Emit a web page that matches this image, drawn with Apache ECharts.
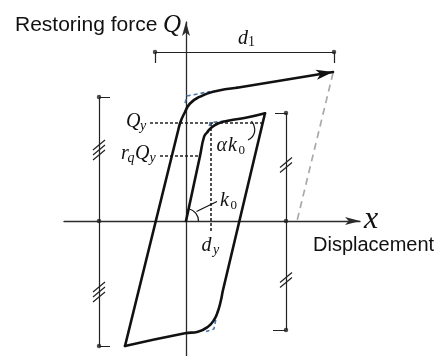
<!DOCTYPE html>
<html>
<head>
<meta charset="utf-8">
<script src="https://cdn.jsdelivr.net/npm/echarts@6/dist/echarts.min.js"></script>
<style>
  html, body { margin: 0; padding: 0; background: #fff; }
  #chart { width: 441px; height: 356px; }
</style>
</head>
<body>
<div id="chart"></div>
<script>
// Hysteresis model: displacement x (horizontal) against restoring force Q (vertical).
// Plot units are arbitrary; origin at (0, 0).

// Path: initial loading from the origin to the first peak
const initialLoading = [[0, 0], [14, 65], [18, 84], [21, 88.5], [25, 93], [32, 97.5], [42, 100.3], [62, 103.7], [79, 107.7]];
// Unloading down to the negative peak
const unloading = [[79, 107.7], [37, -69], [35, -79], [32, -90], [28, -99], [22, -105.7], [12, -110.7], [-1, -112.3], [-61, -125]];
// Reloading towards the next (larger) peak
const reloading = [[-61, -125], [-8, 90], [-5.5, 99], [-2, 107], [4, 117.5], [14, 124.3], [27, 129.3], [51, 133.3]];
const reloadingPeak = [147, 149];

// Bilinear idealisation at the corners (blue dashed)
const bilinearUpperOuter = [[-1, 118], [1, 125], [24, 129.5]];
const bilinearUpperInner = [[22, 88], [24, 98.3], [42, 100.5]];
const bilinearLowerInner = [[31, -92], [28, -108], [20, -110.5]];

// Characteristic levels
const Qy = 98;          // yield force
const rqQy = 65;        // reduced force level
const dy = 24.5;        // yield displacement
const QyLineSpan = [-36, 77];
const rqQyLineSpan = [-26, 14];
const dyLineSpan = [98, -11];

// Envelope guide from the reloading peak back to the axis
const envelopeGuide = [[147, 148], [111, 0]];

// Dimension brackets
const leftBracket = { x: -87, top: 124, bottom: -125 };
const rightBracket = { x: 100, top: 108, bottom: -109 };
const d1Line = { y: 169, from: -31, to: 148 };
const leftBreaks = [[-87, 71], [-87, -71]];
const rightBreaks = [[100, 56], [100, -59]];

const INK = '#111';
const AXIS = '#2b2b2b';
const BLUE = '#4a78ad';

const chart = echarts.init(document.getElementById('chart'), null, { renderer: 'canvas' });

function seg(a, b) { return { coords: [a, b] }; }

// Bracket segments
const bracketSegs = [
  seg([leftBracket.x, leftBracket.top], [leftBracket.x, leftBracket.bottom]),
  seg([leftBracket.x, leftBracket.top], [leftBracket.x + 11, leftBracket.top]),
  seg([leftBracket.x, leftBracket.bottom], [leftBracket.x + 11, leftBracket.bottom]),
  seg([rightBracket.x, rightBracket.top], [rightBracket.x, rightBracket.bottom]),
  seg([rightBracket.x - 11, rightBracket.top], [rightBracket.x, rightBracket.top]),
  seg([rightBracket.x - 13, rightBracket.bottom], [rightBracket.x, rightBracket.bottom]),
  seg([d1Line.from, d1Line.y], [d1Line.to, d1Line.y]),
  seg([d1Line.from, d1Line.y], [d1Line.from, d1Line.y - 11]),
  seg([d1Line.to, d1Line.y], [d1Line.to, d1Line.y - 11])
];
// Break marks: parallel slanted strokes across the bracket lines
function breakStrokes(centres, count) {
  const out = [];
  centres.forEach(function (c) {
    for (let i = 0; i < count; i++) {
      const off = (i - (count - 1) / 2) * 5;
      out.push(seg([c[0] - 6, c[1] + off - 5], [c[0] + 6, c[1] + off + 5]));
    }
  });
  return out;
}
const breakSegs = breakStrokes(leftBreaks, 3).concat(breakStrokes(rightBreaks, 2));

const bracketDots = [
  [leftBracket.x, leftBracket.top], [leftBracket.x, 0], [leftBracket.x, leftBracket.bottom],
  [rightBracket.x, rightBracket.top], [rightBracket.x, 0], [rightBracket.x, rightBracket.bottom],
  [d1Line.from, d1Line.y], [d1Line.to, d1Line.y]
];

const pathStyle = { color: INK, width: 2.6, cap: 'round', join: 'round' };
function pathSeries(data) {
  return {
    type: 'line', data: data, smooth: 0.5, showSymbol: false, symbol: 'none',
    lineStyle: pathStyle, clip: false, silent: true, z: 5
  };
}

const reloadSeries = pathSeries(reloading);
reloadSeries.markLine = {
  silent: true, animation: false,
  symbol: ['none', 'arrow'], symbolSize: [7.5, 17],
  label: { show: false },
  lineStyle: { color: INK, width: 2.6, type: 'solid', cap: 'round' },
  emphasis: { disabled: true },
  data: [[{ coord: reloading[reloading.length - 1] }, { coord: reloadingPeak }]]
};

const option = {
  animation: false,
  backgroundColor: '#fff',
  grid: { left: 64, top: 22, width: 296, height: 334 },
  xAxis: {
    type: 'value', min: -122, max: 174,
    axisLine: { onZero: true, symbol: ['none', 'arrow'], symbolSize: [6, 15], lineStyle: { color: AXIS, width: 1.3 } },
    axisTick: { show: false }, axisLabel: { show: false }, splitLine: { show: false }
  },
  yAxis: {
    type: 'value', min: -135, max: 199,
    axisLine: { onZero: true, symbol: ['none', 'arrow'], symbolSize: [6, 14], lineStyle: { color: AXIS, width: 1.3 } },
    axisTick: { show: false }, axisLabel: { show: false }, splitLine: { show: false }
  },
  series: [
    pathSeries(initialLoading),
    pathSeries(unloading),
    reloadSeries,
    {
      type: 'lines', coordinateSystem: 'cartesian2d', silent: true, z: 3,
      lineStyle: { color: '#222', width: 1.6, type: [3, 2], opacity: 1 },
      data: [
        seg([QyLineSpan[0], Qy], [QyLineSpan[1], Qy]),
        seg([rqQyLineSpan[0], rqQy], [rqQyLineSpan[1], rqQy]),
        seg([dy, dyLineSpan[0]], [dy, dyLineSpan[1]])
      ]
    },
    {
      type: 'lines', coordinateSystem: 'cartesian2d', polyline: true, silent: true, z: 4,
      lineStyle: { color: BLUE, width: 1.6, type: [4, 3], opacity: 1 },
      data: [{ coords: bilinearUpperOuter }, { coords: bilinearUpperInner }, { coords: bilinearLowerInner }]
    },
    {
      type: 'lines', coordinateSystem: 'cartesian2d', silent: true, z: 2,
      lineStyle: { color: '#a9a9a9', width: 1.7, type: [7, 5], opacity: 1 },
      data: [seg(envelopeGuide[0], envelopeGuide[1])]
    },
    {
      type: 'lines', coordinateSystem: 'cartesian2d', silent: true, z: 2,
      lineStyle: { color: '#222', width: 1.2, type: 'solid', opacity: 1 },
      data: bracketSegs.concat(breakSegs)
    },
    {
      type: 'scatter', data: bracketDots, symbol: 'circle', symbolSize: 4.5, silent: true,
      itemStyle: { color: '#222' }, z: 3
    }
  ]
};
chart.setOption(option);

// Text and small angle marks
const SERIF = '"Liberation Serif", "Times New Roman", serif';
const SANS = '"Liberation Sans", Arial, sans-serif';
function t(str, x, baseline, size, italic, family) {
  return {
    type: 'text', x: x, y: baseline - 0.32 * size, silent: true, z: 100,
    style: {
      text: str, fill: INK, textAlign: 'left', textVerticalAlign: 'middle',
      font: (italic ? 'italic ' : '') + size + 'px ' + (family || SERIF)
    }
  };
}
const o = chart.convertToPixel({ gridIndex: 0 }, [0, 0]);
const k0Angle = Math.atan2(initialLoading[2][1], initialLoading[2][0]);
const kLeadA = chart.convertToPixel({ gridIndex: 0 }, [10.5, 9.5]);
const kLeadB = chart.convertToPixel({ gridIndex: 0 }, [31, 19.5]);
const aLead = [[65.5, 100], [68.5, 93], [68, 87], [62, 81]].map(function (p) {
  return chart.convertToPixel({ gridIndex: 0 }, p);
});

chart.setOption({
  graphic: [
    t('Restoring force', 15, 32, 21, false, SANS),
    t('Q', 163, 33, 25, true),
    t('Displacement', 313, 252, 20, false, SANS),
    t('x', 364, 230, 32, true),
    t('d', 238, 45, 20, true), t('1', 248, 47, 14, false),
    t('Q', 126, 128, 20, true), t('y', 140, 131, 14, true),
    t('r', 121, 160, 20, true), t('q', 127.5, 163, 14, true),
    t('Q', 135, 160, 20, true), t('y', 149.5, 163, 14, true),
    t('d', 201.5, 252, 20, true), t('y', 213, 255, 14, true),
    t('k', 220, 207, 20, true), t('0', 230.5, 210, 13, false),
    t('\u03b1', 216.5, 152, 20, true), t('k', 228, 152, 20, true), t('0', 238.5, 155, 13, false),
    {
      type: 'arc', silent: true, z: 50,
      shape: { cx: o[0], cy: o[1], r: 12.5, startAngle: -k0Angle, endAngle: 0 },
      style: { stroke: INK, lineWidth: 1.2, fill: null }
    },
    {
      type: 'line', silent: true, z: 50,
      shape: { x1: kLeadA[0], y1: kLeadA[1], x2: kLeadB[0], y2: kLeadB[1] },
      style: { stroke: INK, lineWidth: 1.2 }
    },
    {
      type: 'bezierCurve', silent: true, z: 50,
      shape: {
        x1: aLead[0][0], y1: aLead[0][1],
        cpx1: aLead[1][0] + 2, cpy1: aLead[1][1],
        cpx2: aLead[2][0] + 2, cpy2: aLead[2][1] + 2,
        x2: aLead[3][0], y2: aLead[3][1]
      },
      style: { stroke: INK, lineWidth: 1.2, fill: null }
    }
  ]
});
</script>
</body>
</html>
